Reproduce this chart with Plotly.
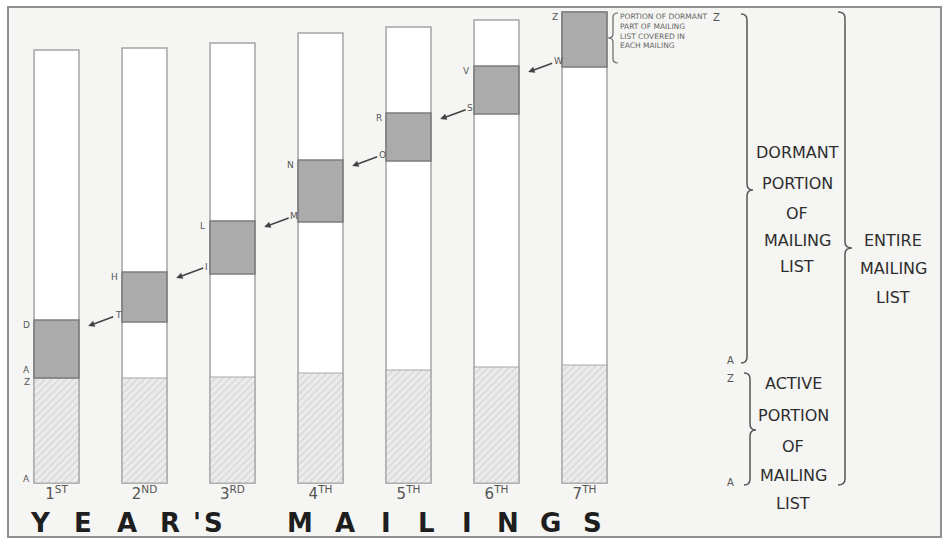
import plotly.graph_objects as go

W, H = 946, 544

# mailings and the heights of each bar's parts (arbitrary list-size units)
mailings = ["1<sup>ST</sup>", "2<sup>ND</sup>", "3<sup>RD</sup>", "4<sup>TH</sup>",
            "5<sup>TH</sup>", "6<sup>TH</sup>", "7<sup>TH</sup>"]
entire_list = [433, 435, 440, 450, 456, 463, 471]
active_part = [105, 105, 106, 110, 113, 116, 118]
covered_low = [105, 161, 209, 261, 322, 369, 416]
covered_high = [163, 211, 262, 323, 370, 417, 471]
top_letters = ["D", "H", "L", "N", "R", "V", "Z"]
arrow_letters = ["T", "I", "M", "O", "S", "W"]

dormant_lines = ["DORMANT", "PORTION", "OF", "MAILING", "LIST"]
active_lines = ["ACTIVE", "PORTION", "OF", "MAILING", "LIST"]
entire_lines = ["ENTIRE", "MAILING", "LIST"]

x = list(range(len(mailings)))
bw = 0.51
covered_size = [h - l for h, l in zip(covered_high, covered_low)]


def px(v):
    return v / W


def py(v):
    return 1 - v / H


def brace(xl, y0, y1, ym, d, r=6):
    # curly brace with its straight spine at xl, tip pushed out by d pixels
    hk = -d
    pts = [
        f"M {px(xl + hk)} {py(y0)}",
        f"Q {px(xl)} {py(y0)} {px(xl)} {py(y0 + r)}",
        f"L {px(xl)} {py(ym - r)}",
        f"Q {px(xl)} {py(ym)} {px(xl + d)} {py(ym)}",
        f"Q {px(xl)} {py(ym)} {px(xl)} {py(ym + r)}",
        f"L {px(xl)} {py(y1 - r)}",
        f"Q {px(xl)} {py(y1)} {px(xl + hk)} {py(y1)}",
    ]
    return " ".join(pts)


def note(text, xx, yy, size, color="#555555", **kw):
    d = dict(x=px(xx), y=py(yy), xref="paper", yref="paper", text=text,
             showarrow=False, xanchor="center", yanchor="middle",
             font=dict(family="DejaVu Sans", size=size, color=color))
    d.update(kw)
    return d


fig = go.Figure()

# whole mailing list (white column)
fig.add_trace(go.Bar(
    x=x, y=entire_list, base=0, width=bw,
    marker=dict(color="white", line=dict(color="#a4a4a4", width=1.5)),
    name="Entire mailing list", showlegend=False,
))

# active portion (hatched)
fig.add_trace(go.Bar(
    x=x, y=active_part, base=0, width=bw,
    marker=dict(color="#ececec", line=dict(color="#a8a8a8", width=1.2),
                pattern=dict(shape="/", fgcolor="#c9c9c9", bgcolor="#ececec",
                             size=5, solidity=0.35)),
    name="Active portion", showlegend=False,
))

# dormant part covered in each mailing
fig.add_trace(go.Bar(
    x=x, y=covered_size, base=covered_low, width=bw,
    marker=dict(color="#ababab", line=dict(color="#7c7c7c", width=1.6)),
    name="Dormant portion covered", showlegend=False,
))

ann = []
lab_font = dict(family="DejaVu Sans", size=9, color="#555555")

# letters at the top of each covered block
for i, (t, hi) in enumerate(zip(top_letters, covered_high)):
    ann.append(dict(x=i - 0.34, y=hi - 5, xref="x", yref="y", text=t,
                    showarrow=False, font=lab_font,
                    xanchor="center", yanchor="middle"))

# extra markers on the first column
for t, yy in [("A", active_part[0] + 8), ("Z", active_part[0] - 4), ("A", 4)]:
    ann.append(dict(x=-0.34, y=yy, xref="x", yref="y", text=t,
                    showarrow=False, font=lab_font,
                    xanchor="center", yanchor="middle"))

# arrows pointing at the next year's starting point
for i, t in enumerate(arrow_letters):
    ann.append(dict(x=i + 0.36, y=covered_high[i] - 6, xref="x", yref="y",
                    text=t, showarrow=True, arrowhead=2, arrowsize=0.8,
                    arrowwidth=1.6, arrowcolor="#444444",
                    ax=30, ay=-11, font=lab_font))

# right-hand explanations, one line at a time for the wide line spacing
for t, yy in zip(dormant_lines, [152, 183, 213, 240, 267]):
    ann.append(note(t, 797, yy, 16, "#2e2e2e"))
for t, yy in zip(active_lines, [383, 415, 446, 475, 503]):
    ann.append(note(t, 793, yy, 16, "#2e2e2e"))
for t, yy in zip(entire_lines, [240, 268, 297]):
    ann.append(note(t, 893, yy, 16, "#2e2e2e"))

ann.append(note("PORTION OF DORMANT<br>PART OF MAILING<br>LIST COVERED IN<br>EACH MAILING",
                618, 10, 7.5, "#666666", align="left", xanchor="left",
                yanchor="top"))
for t, xx, yy in [("Z", 716, 17), ("A", 730, 360), ("Z", 730, 378), ("A", 730, 482)]:
    ann.append(note(t, xx, yy, 10))

# spaced-out title under the columns
title_letters = "YEAR'SMAILINGS"
title_x = [40, 83, 127, 170, 197, 213, 300, 345, 386, 426, 467, 508, 550, 592]
for ch, xx in zip(title_letters, title_x):
    ann.append(note(f"<b>{ch}</b>", xx, 523, 26, "#1e1e1e"))

shapes = [
    dict(type="rect", xref="paper", yref="paper", x0=px(8), x1=px(941),
         y0=py(537), y1=py(7), fillcolor="#f5f5f3",
         line=dict(color="#8f8f8f", width=2), layer="below"),
    dict(type="path", xref="paper", yref="paper",
         path=brace(747, 14, 363, 190, 6), line=dict(color="#555555", width=1.5)),
    dict(type="path", xref="paper", yref="paper",
         path=brace(750, 373, 485, 430, 6), line=dict(color="#555555", width=1.5)),
    dict(type="path", xref="paper", yref="paper",
         path=brace(845, 12, 485, 248, 7), line=dict(color="#555555", width=1.5)),
    dict(type="path", xref="paper", yref="paper",
         path=brace(613, 13, 63, 38, -5, r=4), line=dict(color="#666666", width=1.2)),
]

fig.update_layout(
    width=W, height=H,
    margin=dict(l=0, r=0, t=0, b=0),
    paper_bgcolor="white",
    plot_bgcolor="rgba(0,0,0,0)",
    barmode="overlay",
    showlegend=False,
    annotations=ann,
    shapes=shapes,
    xaxis=dict(range=[-56.5 / 88, (W - 56.5) / 88], tickvals=x, ticktext=mailings,
               showgrid=False, zeroline=False, showline=False, ticks="",
               anchor="free", position=61 / H,
               tickfont=dict(family="DejaVu Sans", size=15, color="#555555")),
    yaxis=dict(range=[-61, 483], showgrid=False, zeroline=False,
               showticklabels=False, showline=False),
)

fig.write_html("out.html", config={"displayModeBar": False},
               post_script="document.body.style.margin='0px';")
